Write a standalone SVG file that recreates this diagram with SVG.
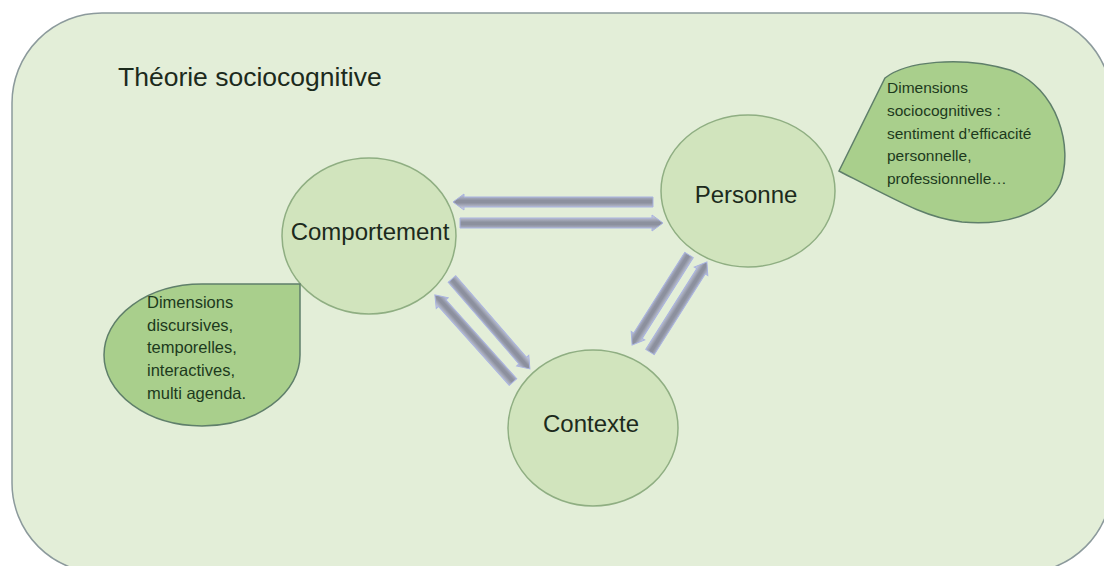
<svg xmlns="http://www.w3.org/2000/svg" width="1104" height="566" viewBox="0 0 1104 566">
<style>
.lbl{font-family:"Liberation Sans",Arial,sans-serif;fill:#1c2a1c}
.node{fill:#d1e4bd;stroke:#8fae82;stroke-width:1.5}
.drop{fill:#a9cf8c;stroke:#5f7f6a;stroke-width:1.5}
.arr{fill:url(#ag);stroke:#a9b3e0;stroke-width:1}
.small{font-size:15.5px;fill:#1d3a1d}
.small2{font-size:16.5px;fill:#1d3a1d}
.big{font-size:24px}
</style>
<defs>
<linearGradient id="ag" x1="0" y1="0" x2="0" y2="1">
<stop offset="0" stop-color="#d6dbef"/>
<stop offset="0.45" stop-color="#8c909e"/>
<stop offset="0.6" stop-color="#8c909e"/>
<stop offset="1" stop-color="#c3c9e4"/>
</linearGradient>
</defs>
<rect width="1104" height="566" fill="#ffffff"/>
<rect id="frame" x="12" y="13" width="1100" height="560" rx="90" ry="90" fill="#e3eed8" stroke="#8c9a9c" stroke-width="1.5"/>
<text class="lbl" x="118" y="86" font-size="26.5">Théorie sociocognitive</text>

<g id="connectors">
<polygon class="arr" transform="translate(653,202) rotate(180)" points="0,-5 189,-5 189,-8 200,0 189,8 189,5 0,5"/>
<polygon class="arr" transform="translate(460,223)" points="0,-5 192,-5 192,-8 203,0 192,8 192,5 0,5"/>
<polygon class="arr" transform="translate(452,279) rotate(49.1)" points="0,-5 108,-5 108,-8 119,0 108,8 108,5 0,5"/>
<polygon class="arr" transform="translate(513,382) rotate(228.1)" points="0,-5 106,-5 106,-8 117,0 106,8 106,5 0,5"/>
<polygon class="arr" transform="translate(689,255) rotate(122.3)" points="0,-5 95.5,-5 95.5,-8 106.5,0 95.5,8 95.5,5 0,5"/>
<polygon class="arr" transform="translate(650,352) rotate(-57.7)" points="0,-5 95.5,-5 95.5,-8 106.5,0 95.5,8 95.5,5 0,5"/>
</g>

<g id="comportement">
<ellipse class="node" cx="369" cy="236" rx="87" ry="78"/>
<text class="lbl big" x="370" y="240" text-anchor="middle">Comportement</text>
</g>
<g id="personne">
<ellipse class="node" cx="748" cy="191" rx="87" ry="76"/>
<text class="lbl big" x="746" y="203" text-anchor="middle">Personne</text>
</g>
<g id="contexte">
<ellipse class="node" cx="593" cy="428" rx="85" ry="78"/>
<text class="lbl big" x="591" y="432" text-anchor="middle">Contexte</text>
</g>

<g id="bulle-comportement">
<path class="drop" d="M300,284 L202,284 A98,71 0 1 0 300,355 Z"/>
<text class="lbl small2" x="147" y="308">Dimensions</text>
<text class="lbl small2" x="147" y="331">discursives,</text>
<text class="lbl small2" x="147" y="353">temporelles,</text>
<text class="lbl small2" x="147" y="376">interactives,</text>
<text class="lbl small2" x="147" y="399">multi agenda.</text>
</g>
<g id="bulle-personne">
<path class="drop" d="M839,171 L885,78 C905,62 960,55 1010,70 C1058,88 1074,148 1060,184 C1046,214 1004,226 962,222 C928,218 905,205 839,171 Z"/>
<text class="lbl small" x="887" y="93">Dimensions</text>
<text class="lbl small" x="887" y="116">sociocognitives :</text>
<text class="lbl small" x="887" y="139">sentiment d’efficacité</text>
<text class="lbl small" x="887" y="161">personnelle,</text>
<text class="lbl small" x="887" y="184">professionnelle…</text>
</g>
</svg>
